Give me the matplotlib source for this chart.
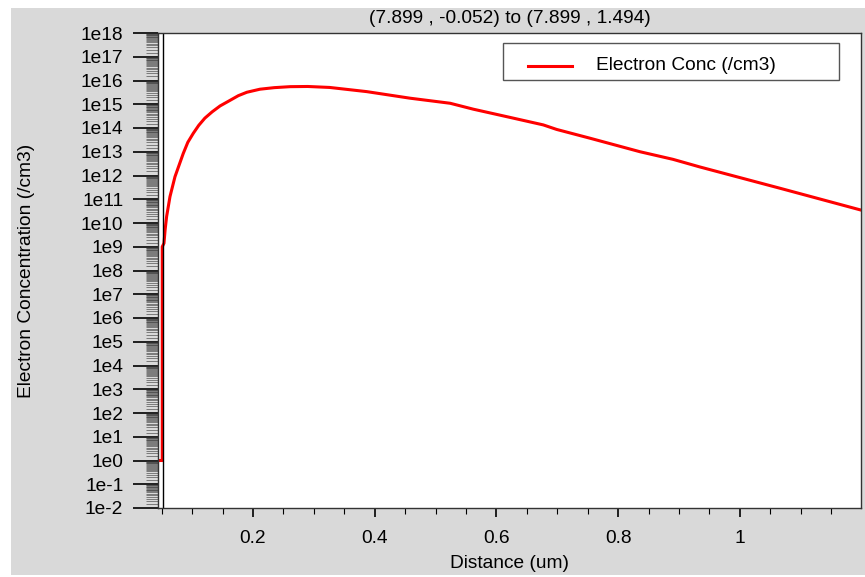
import numpy as np
import matplotlib
matplotlib.use("Agg")
import matplotlib.pyplot as plt
from matplotlib.patches import Rectangle
from matplotlib.lines import Line2D
from matplotlib.ticker import LogLocator, FuncFormatter, MultipleLocator, FixedLocator

plt.rcParams["font.family"] = ["Liberation Sans", "DejaVu Sans"]

# cutline data: distance (um) vs electron concentration (/cm3)
distance = [0.044, 0.051, 0.051, 0.0538, 0.0558, 0.0582, 0.0637, 0.0719, 0.0855,
            0.093, 0.102, 0.111, 0.121, 0.133, 0.146, 0.16, 0.176, 0.19, 0.2115,
            0.235, 0.261, 0.29, 0.326, 0.387, 0.458,
            0.524, 0.562, 0.617, 0.677, 0.699, 0.754, 0.836, 0.890, 0.934,
            1.066, 1.199]
electron_conc = [1.0, 1.0, 1.0e9, 1.4e9, 5.5e9, 1.9e10, 1.3e11, 8.9e11, 8.5e12,
                 2.5e13, 6.0e13, 1.3e14, 2.6e14, 4.8e14, 8.5e14, 1.35e15, 2.3e15, 3.2e15, 4.3e15,
                 5.0e15, 5.5e15, 5.6e15, 5.1e15, 3.4e15, 1.8e15,
                 1.1e15, 6.2e14, 3.0e14, 1.35e14, 8.7e13, 3.7e13, 1.0e13, 4.8e12, 2.3e12,
                 2.9e11, 3.5e10]
series_label = "Electron Conc (/cm3)"
title = "(7.899 , -0.052) to (7.899 , 1.494)"
x_ticks = [0.2, 0.4, 0.6, 0.8, 1.0]
x_ticklabels = ["0.2", "0.4", "0.6", "0.8", "1"]
surface_x = 0.0525

FS = 13.8
W, H = 865, 577
fig = plt.figure(figsize=(W / 100, H / 100), dpi=100)
fig.patch.set_facecolor("white")
fig.patches.append(Rectangle((11 / W, 1 - 575 / H), 854 / W, 567 / H,
                             transform=fig.transFigure, facecolor="#d9d9d9",
                             edgecolor="none", zorder=-10))

ax = fig.add_axes([158 / W, 1 - 508 / H, 703 / W, 475 / H])
ax.plot(distance, electron_conc, color="#ff0000", lw=2.2, solid_joinstyle="round")
ax.axvline(surface_x, color="black", lw=1)

ax.set_yscale("log")
ax.set_ylim(1e-2, 1e18)
ax.set_xlim(0.044, 1.199)

ax.yaxis.set_major_locator(LogLocator(base=10, numticks=40))
ax.yaxis.set_minor_locator(LogLocator(base=10, subs=np.arange(1.5, 10, 0.5), numticks=400))
ax.yaxis.set_major_formatter(FuncFormatter(lambda v, p: "1e%d" % int(round(np.log10(v)))))
ax.yaxis.set_minor_formatter(FuncFormatter(lambda v, p: ""))

ax.xaxis.set_major_locator(FixedLocator(x_ticks))
ax.set_xticklabels(x_ticklabels)
ax.xaxis.set_minor_locator(MultipleLocator(0.05))

ax.tick_params(axis="y", which="major", direction="out", length=18, width=1.2, pad=7, labelsize=FS)
ax.tick_params(axis="y", which="minor", direction="out", length=8.5, width=0.4, color="#333333")
ax.tick_params(axis="x", which="major", direction="out", length=6.5, width=1.2, pad=9, labelsize=FS)
ax.tick_params(axis="x", which="minor", direction="out", length=4.3, width=0.8)

for s in ax.spines.values():
    s.set_color("#333333")
    s.set_linewidth(1)

ax.set_xlabel("Distance (um)", fontsize=FS)
ax.set_ylabel("Electron Concentration (/cm3)", fontsize=FS)
ax.yaxis.set_label_coords(27 / W, (1 - 270.5 / H), transform=fig.transFigure)
ax.xaxis.set_label_coords(509.5 / W, 1 - 563 / H, transform=fig.transFigure)
ax.xaxis.label.set_va("center")
ax.yaxis.label.set_va("center")

fig.text(509.5 / W, 1 - 18.5 / H, title, ha="center", va="center", fontsize=FS)

# legend box drawn to match the boxed key in the original
fig.patches.append(Rectangle((503 / W, 1 - 80 / H), 336 / W, 37 / H,
                             transform=fig.transFigure, facecolor="white",
                             edgecolor="#555555", lw=1, zorder=5))
fig.lines.append(Line2D([528 / W, 572 / W], [1 - 66 / H, 1 - 66 / H],
                        transform=fig.transFigure, color="#ff0000", lw=2.2, zorder=6))
fig.text(596 / W, 1 - 66 / H, series_label, ha="left", va="center", fontsize=FS, zorder=6)

fig.savefig("out.png", dpi=100)
